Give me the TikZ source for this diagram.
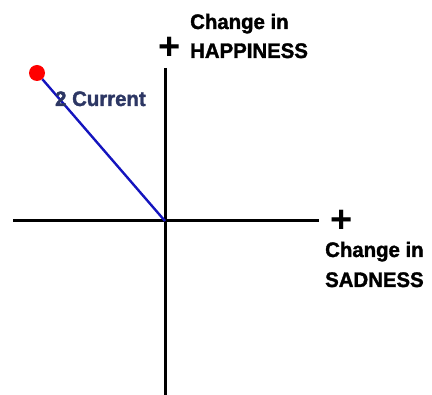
\documentclass[tikz,border=0pt]{standalone}
\usepackage{fontspec}
\setmainfont{Liberation Sans}
\newfontfamily\heavyfont[FakeBold=1.6,FakeStretch=0.97,BoldFont={Liberation Sans Bold}]{Liberation Sans}
\begin{document}
\begin{tikzpicture}[x=1pt,y=-1pt,
  axis/.style={line width=3pt,black},
  lbl/.style={font=\fontsize{21}{24}\heavyfont\bfseries,anchor=base west,inner sep=0pt,black},
  plussign/.style={font=\fontsize{38}{38}\selectfont\bfseries,inner sep=0pt,black},
  vec/.style={line width=2.4pt,color={rgb,255:red,20;green,20;blue,190}},
  dot/.style={circle,fill=red,minimum size=16pt,inner sep=0pt}]
\useasboundingbox (0,0) rectangle (432,395);
\coordinate (O) at (165,221);
\coordinate (vt) at (165,68);
\coordinate (vb) at (165,395);
\coordinate (hl) at (13,221);
\coordinate (hr) at (319,221);
\draw[axis] (vt) -- (vb);
\draw[axis] (hl) -- (hr);
\node[dot] (cur) at (37,73) {};
\draw[vec] (cur) -- (O);
\node[plussign] (pt) at (170,48) {+};
\node[plussign] (pr) at (342,221) {+};
\node[lbl] (t1) at (190,29) {Change in};
\node[lbl] (t2) at (190,58) {HAPPINESS};
\node[lbl] (r1) at (325,257) {Change in};
\node[lbl] (r2) at (325,287) {SADNESS};
\node[lbl,text={rgb,255:red,45;green,55;blue,100}] (c) at (55,106) {2 Current};
\end{tikzpicture}
\end{document}
